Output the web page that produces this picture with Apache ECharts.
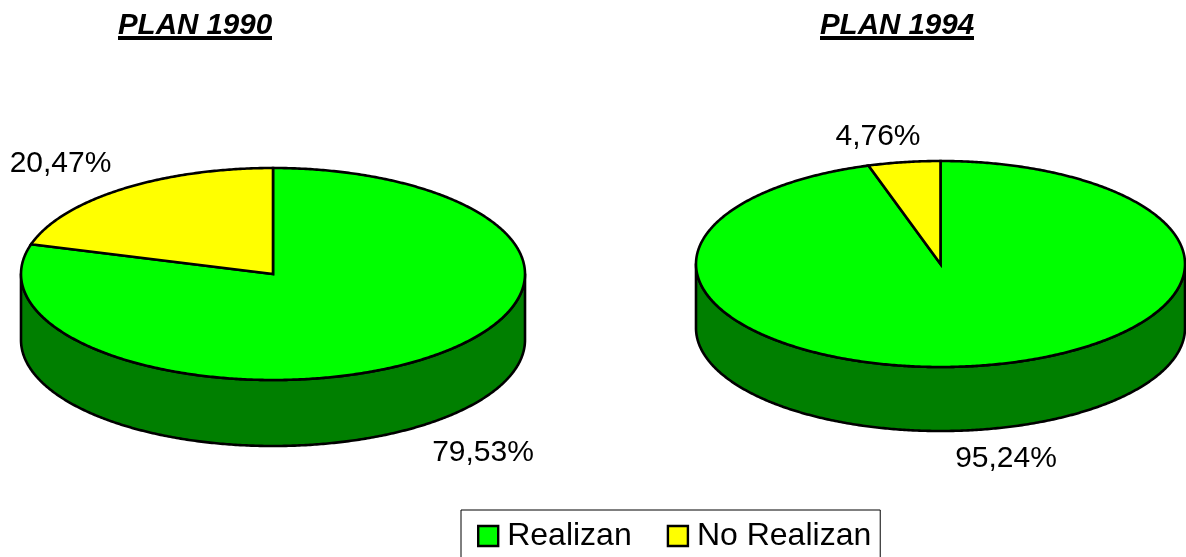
<!DOCTYPE html>
<html>
<head>
<meta charset="utf-8">
<style>html,body{margin:0;padding:0;background:#fff;overflow:hidden}#c{width:1186px;height:557px}</style>
<script src="https://cdn.jsdelivr.net/npm/echarts@6/dist/echarts.min.js"></script>
</head>
<body>
<div id="c"></div>
<script>
// Data
var pieTitles = ['PLAN 1990', 'PLAN 1994'];
var realizan = [79.53, 95.24];
var noRealizan = [20.47, 4.76];
var categories = ['Realizan', 'No Realizan'];

// Layout of the two tilted pies and styles
var FONT = '"Liberation Sans", Arial, sans-serif';
var pies = [
  {cx: 273, cy: 274, rx: 252, ry: 106, depth: 66},
  {cx: 940.5, cy: 264, rx: 244.5, ry: 103, depth: 64}
];
var labelPos = {
  Realizan: [[483, 453], [1006, 459]],
  'No Realizan': [[60.5, 164], [878, 137]]
};
var topColors = {Realizan: '#00ff00', 'No Realizan': '#ffff00'};
var wallColors = {Realizan: '#007f00', 'No Realizan': '#808000'};

function pt(p, deg, dy) {
  var t = deg * Math.PI / 180;
  return [p.cx + p.rx * Math.sin(t), p.cy - p.ry * Math.cos(t) + (dy || 0)];
}
function arc(p, a0, a1, dy) {
  var out = [], n = Math.max(2, Math.ceil(Math.abs(a1 - a0) * 2));
  for (var i = 0; i <= n; i++) out.push(pt(p, a0 + (a1 - a0) * i / n, dy));
  return out;
}
function pctLabel(v) { return v.toFixed(2).replace('.', ',') + '%'; }

function makeSeries(name, values, startValues) {
  return {
    type: 'custom',
    name: name,
    coordinateSystem: 'none',
    silent: true,
    animation: false,
    itemStyle: {color: topColors[name]},
    data: values,
    renderItem: function (params, api) {
      var i = params.dataIndex, p = pies[i], v = api.value(0);
      var a0 = startValues[i] * 3.6, a1 = a0 + v * 3.6;
      var children = [];
      var w0 = Math.max(a0, 90), w1 = Math.min(a1, 270);
      if (w1 > w0) {
        var wall = arc(p, w0, w1, 0).concat(arc(p, w1, w0, p.depth));
        children.push({
          type: 'polygon',
          shape: {points: wall},
          style: {fill: wallColors[name], stroke: '#000', lineWidth: 2.6, lineJoin: 'round'}
        });
      }
      children.push({
        type: 'polygon',
        shape: {points: [[p.cx, p.cy]].concat(arc(p, a0, a1, 0))},
        style: {fill: topColors[name], stroke: '#000', lineWidth: 2.6, lineJoin: 'miter'}
      });
      children.push({
        type: 'text',
        style: {
          text: pctLabel(v), x: labelPos[name][i][0], y: labelPos[name][i][1],
          align: 'center', verticalAlign: 'middle',
          font: '30px ' + FONT, fill: '#000'
        }
      });
      return {type: 'group', children: children};
    }
  };
}

var chart = echarts.init(document.getElementById('c'), null, {renderer: 'canvas'});
var titleStyle = {fontFamily: FONT, fontSize: 29.5, fontWeight: 'bold', fontStyle: 'italic', color: '#000'};
chart.setOption({
  animation: false,
  backgroundColor: '#fff',
  title: [
    {text: pieTitles[0], left: 195, top: 11, textAlign: 'center', padding: 0, textStyle: titleStyle},
    {text: pieTitles[1], left: 897, top: 11, textAlign: 'center', padding: 0, textStyle: titleStyle}
  ],
  legend: {
    left: 461, top: 510,
    padding: [10, 9, 30, 16],
    itemWidth: 20, itemHeight: 20, itemGap: 35,
    backgroundColor: '#fff', borderColor: '#000', borderWidth: 1, borderRadius: 0,
    selectedMode: false,
    textStyle: {fontFamily: FONT, fontSize: 32, color: '#000', padding: [0, 0, 0, 4]},
    data: categories.map(function (c) {
      return {name: c, icon: 'rect', itemStyle: {color: topColors[c], borderColor: '#000', borderWidth: 2.4}};
    })
  },
  graphic: [
    {type: 'rect', shape: {x: 118, y: 36, width: 154, height: 4}, style: {fill: '#000'}},
    {type: 'rect', shape: {x: 820, y: 36, width: 154, height: 4}, style: {fill: '#000'}}
  ],
  series: [
    makeSeries(categories[0], realizan, [0, 0]),
    makeSeries(categories[1], noRealizan, realizan)
  ]
});
</script>
</body>
</html>
